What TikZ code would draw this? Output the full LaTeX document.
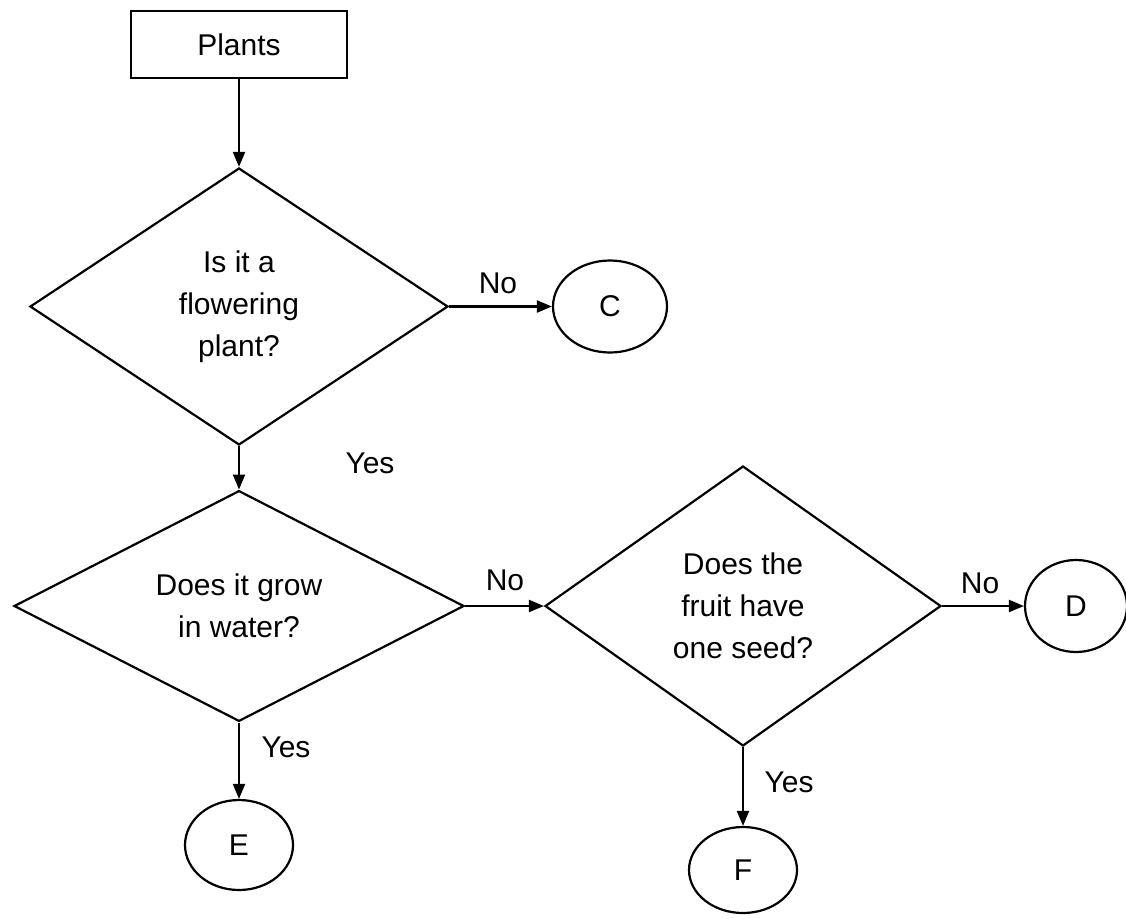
\documentclass[tikz,border=0pt]{standalone}
\usepackage{fontspec}
\setmainfont{Liberation Sans}
\usetikzlibrary{shapes.geometric,arrows.meta}
\begin{document}
\begin{tikzpicture}[x=1pt,y=-1pt,
  every node/.style={font=\fontsize{30}{42}\selectfont, inner sep=0pt},
  line/.style={line width=2.2pt, draw=black},
  boxnode/.style={rectangle, line, minimum width=216pt, minimum height=67pt},
  decision/.style={diamond, line, align=center},
  terminal/.style={ellipse, line},
  lbl/.style={},
  arr/.style={line width=2.2pt, -{Triangle[length=15pt,width=12pt]}}
]
\useasboundingbox[fill=white] (0,0) rectangle (1126,918);

\node[boxnode] (plants) at (239,44.5) {Plants};
\node[decision, minimum width=418pt, minimum height=277pt] (q1) at (239,306.5)
  {Is it a\\flowering\\plant?};
\node[terminal, minimum width=114pt, minimum height=92pt] (c) at (610,306.5) {C};
\node[decision, minimum width=450pt, minimum height=213pt] (q2) at (239,606)
  {Does it grow\\in water?};
\node[decision, minimum width=396pt, minimum height=280pt] (q3) at (743,606)
  {Does the\\fruit have\\one seed?};
\node[terminal, minimum width=102pt, minimum height=92pt] (d) at (1076,606) {D};
\node[terminal, minimum width=108pt, minimum height=90pt] (e) at (239,845) {E};
\node[terminal, minimum width=108pt, minimum height=86pt] (f) at (743,870) {F};

\draw[arr] (plants) -- (q1);
\draw[arr] (q1) -- (c);
\draw[arr] (q1) -- (q2);
\draw[arr] (q2) -- (q3);
\draw[arr] (q3) -- (d);
\draw[arr] (q2) -- (e);
\draw[arr] (q3) -- (f);

\node[lbl] (no1) at (498,283) {No};
\node[lbl] (yes1) at (370,463) {Yes};
\node[lbl] (no2) at (505,580) {No};
\node[lbl] (no3) at (980,583) {No};
\node[lbl] (yes2) at (286,747) {Yes};
\node[lbl] (yes3) at (789,782) {Yes};
\end{tikzpicture}
\end{document}
